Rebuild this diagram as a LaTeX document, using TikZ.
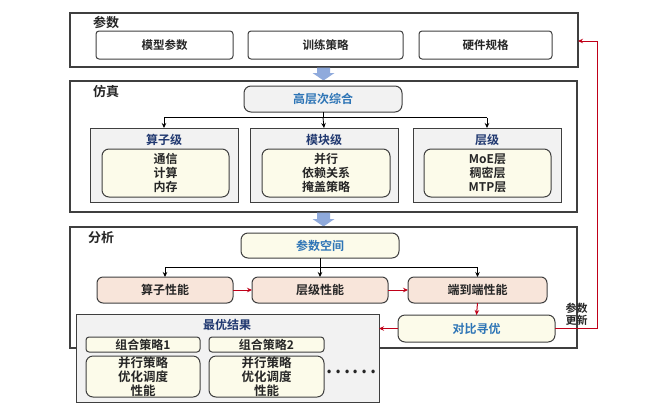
\documentclass[tikz,border=0pt]{standalone}
\usepackage{fontspec}
\setmainfont{Noto Sans CJK SC Bold}
\usetikzlibrary{arrows.meta}
\definecolor{bordc}{HTML}{3F3F3F}
\definecolor{txtc}{HTML}{262626}
\definecolor{grayfill}{HTML}{F2F2F2}
\definecolor{creamfill}{HTML}{FCFBEA}
\definecolor{peachfill}{HTML}{F8E5DA}
\definecolor{bluetxt}{HTML}{2E75B6}
\definecolor{navytxt}{HTML}{203870}
\definecolor{arrowblue}{HTML}{8FAADC}
\definecolor{redc}{HTML}{C00018}
\begin{document}
\begin{tikzpicture}[x=1pt,y=-1pt,
  every node/.style={inner sep=0pt, outer sep=0pt, text=txtc, font=\fontsize{12}{14}\selectfont, align=center},
  outerbox/.style={draw=bordc, line width=1.2pt, fill=white},
  parambox/.style={draw=bordc, line width=1pt, rounded corners=3pt, fill=white, font=\fontsize{11.5}{14}\selectfont},
  levelbox/.style={draw=bordc, line width=1pt, fill=grayfill},
  creambox/.style={draw=bordc, line width=1pt, rounded corners=7pt, fill=creamfill},
  graybox/.style={draw=bordc, line width=1pt, rounded corners=7pt, fill=grayfill},
  perfbox/.style={draw=bordc, line width=1pt, rounded corners=6pt, fill=peachfill},
  smallbox/.style={draw=bordc, line width=1pt, rounded corners=3pt, fill=creamfill},
  seclabel/.style={font=\fontsize{13}{15}\selectfont},
  bluetitle/.style={text=bluetxt},
  navytitle/.style={text=navytxt},
  tree/.style={draw=black, line width=0.8pt},
  treearrow/.style={draw=black, line width=0.8pt, -{Stealth[length=5pt,width=4.5pt]}},
  redarrow/.style={draw=redc, line width=1pt, -{Stealth[length=5pt,width=4.5pt]}},
  blockarrow/.style={fill=arrowblue, draw=none}
]
\useasboundingbox (0,0) rectangle (660,418);

% ---------- 参数 ----------
\node[outerbox, minimum width=508pt, minimum height=54pt] (params) at (324,40) {};
\node[seclabel] (paramslbl) at (106,23) {参数};
\node[parambox, minimum width=137pt, minimum height=28pt] (mp) at (164.5,45) {模型参数};
\node[parambox, minimum width=155pt, minimum height=28pt] (tp) at (325.5,45) {训练策略};
\node[parambox, minimum width=133pt, minimum height=28pt] (hw) at (485.5,45) {硬件规格};

% block arrow 1
\fill[blockarrow] (317,67.5) -- (330,67.5) -- (330,73) -- (334.5,73) -- (323.5,80.5) -- (312.5,73) -- (317,73) -- cycle;

% ---------- 仿真 ----------
\node[outerbox, minimum width=507pt, minimum height=131pt] (sim) at (323.5,146.5) {};
\node[seclabel] (simlbl) at (106,92) {仿真};
\node[graybox, minimum width=158pt, minimum height=26pt, bluetitle] (hls) at (323,99) {高层次综合};

\node[levelbox, minimum width=148pt, minimum height=74pt] (opl) at (164,165) {};
\node[levelbox, minimum width=148pt, minimum height=74pt] (modl) at (324,165) {};
\node[levelbox, minimum width=148pt, minimum height=74pt] (layl) at (487,165) {};
\node[navytitle] (opt) at (164,139.5) {算子级};
\node[navytitle] (modt) at (324,139.5) {模块级};
\node[navytitle] (layt) at (487,139.5) {层级};
\node[creambox, minimum width=127pt, minimum height=48pt] (opi) at (165.5,173) {通信\\计算\\内存};
\node[creambox, minimum width=128pt, minimum height=48pt] (modi) at (326,173) {并行\\依赖关系\\掩盖策略};
\node[creambox, minimum width=127pt, minimum height=48pt] (layi) at (487.5,173) {MoE层\\稠密层\\MTP层};

\coordinate (hj) at (hls.south |- 0,117.5);
\draw[tree] (hls.south) -- (hj);
\draw[tree] (opl.north |- hj) -- (layl.north |- hj);
\draw[treearrow] (opl.north |- hj) -- (opl.north);
\draw[treearrow] (hj) -- (modl.north);
\draw[treearrow] (layl.north |- hj) -- (layl.north);

% block arrow 2
\fill[blockarrow] (317,212.5) -- (330,212.5) -- (330,219) -- (334.5,219) -- (323.5,226.5) -- (312.5,219) -- (317,219) -- cycle;

% ---------- 分析 ----------
\node[outerbox, minimum width=507pt, minimum height=121pt] (ana) at (323.5,287.5) {};
\node[seclabel] (analbl) at (101,238) {分析};
\node[creambox, minimum width=158pt, minimum height=25pt, bluetitle] (ps) at (320,245.5) {参数空间};
\node[perfbox, minimum width=136pt, minimum height=26pt] (opp) at (165,290) {算子性能};
\node[perfbox, minimum width=136pt, minimum height=26pt] (layp) at (320,290) {层级性能};
\node[perfbox, minimum width=139pt, minimum height=26pt] (e2e) at (477.5,290) {端到端性能};

\coordinate (pj) at (ps.south |- 0,267.5);
\draw[tree] (ps.south) -- (pj);
\draw[tree] (opp.north |- pj) -- (e2e.north |- pj);
\draw[treearrow] (opp.north |- pj) -- (opp.north);
\draw[treearrow] (pj) -- (layp.north);
\draw[treearrow] (e2e.north |- pj) -- (e2e.north);

\draw[redarrow] (opp.east) -- (layp.west);
\draw[redarrow] (layp.east) -- (e2e.west);

\node[creambox, minimum width=157pt, minimum height=27pt, bluetitle] (cmp) at (476.5,328.5) {对比寻优};
\draw[redarrow] (e2e.south) -- (cmp.north);

% ---------- 最优结果 ----------
\node[levelbox, minimum width=303pt, minimum height=88pt] (best) at (227.5,358) {};
\node[navytitle] (bestt) at (227,324.5) {最优结果};
\node[smallbox, minimum width=114pt, minimum height=15pt] (c1) at (143,344.5) {组合策略1};
\node[smallbox, minimum width=115pt, minimum height=15pt] (c2) at (266.5,344.5) {组合策略2};
\node[creambox, minimum width=114pt, minimum height=41pt, font=\fontsize{12.5}{14}\selectfont] (d1) at (143,376.5) {并行策略\\优化调度\\性能};
\node[creambox, minimum width=115pt, minimum height=41pt, font=\fontsize{12.5}{14}\selectfont] (d2) at (266.5,376.5) {并行策略\\优化调度\\性能};
\node[font=\fontsize{19}{19}\selectfont] (dots) at (351.5,372) {.\kern2.6pt.\kern2.6pt.\kern2.6pt.\kern2.6pt.\kern2.6pt.};

\draw[redarrow] (cmp.west) -- (best.east |- cmp.west);

% ---------- 参数更新 feedback ----------
\coordinate (fb1) at (597,0 |- cmp.east);
\coordinate (fb2) at (597,41);
\draw[redarrow] (cmp.east) -- (fb1) -- (fb2) -- (params.east |- fb2);
\node[font=\fontsize{11}{12}\selectfont] (upd) at (576.5,314) {参数\\更新};

\end{tikzpicture}
\end{document}
